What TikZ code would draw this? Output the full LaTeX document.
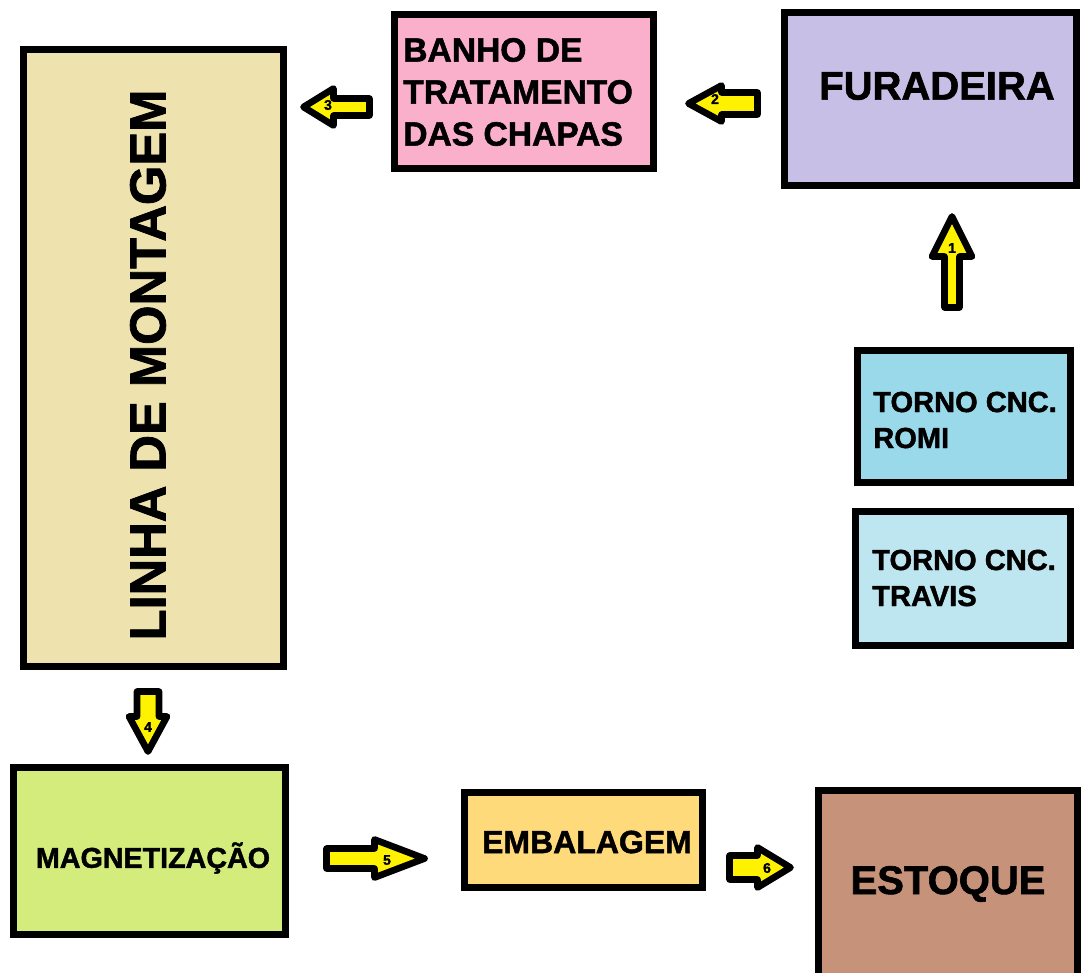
\documentclass[tikz,border=0pt]{standalone}
\usepackage{fontspec}
\setmainfont{Liberation Sans}[BoldFeatures={FakeBold=1.5}]
\definecolor{ctan}{HTML}{EEE2AF}
\definecolor{cpink}{HTML}{FAB0CB}
\definecolor{clav}{HTML}{C8BFE6}
\definecolor{cromi}{HTML}{99D9EA}
\definecolor{ctravis}{HTML}{BEE6F0}
\definecolor{cmag}{HTML}{D4EC7B}
\definecolor{cemb}{HTML}{FFDA7A}
\definecolor{cest}{HTML}{C6937A}
\definecolor{cyel}{HTML}{FFF200}
\tikzset{
  box/.style={draw=black, line width=5.25pt, inner sep=0pt},
  lbl/.style={font=\bfseries, inner sep=0pt, text=black},
  arrowstyle/.style={draw=black, fill=cyel, line width=5pt, line join=round},
  num/.style={font=\bfseries\fontsize{10.5}{10.5}\selectfont, inner sep=0pt}
}
\newcommand{\blockarr}[7]{%
  \draw[arrowstyle, shift={(#1,#2)}, rotate=#3]
    ({-#4/2},{-#6/2}) -- ({#4/2-#7},{-#6/2}) -- ({#4/2-#7},{-#5/2}) -- ({#4/2},0)
    -- ({#4/2-#7},{#5/2}) -- ({#4/2-#7},{#6/2}) -- ({-#4/2},{#6/2}) -- cycle;}
\begin{document}
\begin{tikzpicture}[x=0.75pt, y=-0.75pt]
\useasboundingbox (0,0) rectangle (1081,972);
\clip (0,0) rectangle (1081,972);
% boxes
\node[box, fill=ctan, minimum width=195pt, minimum height=462.75pt] (linha) at (153.5,358) {};
\node[box, fill=cpink, minimum width=194.25pt, minimum height=115.5pt] (banho) at (524,91.5) {};
\node[box, fill=clav, minimum width=219pt, minimum height=129.75pt] (fura) at (930.5,99) {};
\node[box, fill=cromi, minimum width=159.75pt, minimum height=99pt] (romi) at (964,416.5) {};
\node[box, fill=ctravis, minimum width=161.25pt, minimum height=100.5pt] (travis) at (963,578.5) {};
\node[box, fill=cmag, minimum width=204pt, minimum height=125.25pt] (magnet) at (149.5,851) {};
\node[box, fill=cemb, minimum width=178.5pt, minimum height=71.25pt] (embal) at (583.5,840) {};
\node[box, fill=cest, minimum width=194.25pt, minimum height=147pt] (estoque) at (948,888.5) {};
% texts
\node[lbl, rotate=90, font=\bfseries\fontsize{38}{38}\selectfont] (linhaT) at (148,365) {LINHA DE MONTAGEM};
\node[lbl, anchor=west, align=left, font=\bfseries\fontsize{25.2}{31.5}\selectfont] (banhoT) at (403,92) {BANHO DE\\TRATAMENTO\\DAS CHAPAS};
\node[lbl, font=\bfseries\fontsize{30}{30}\selectfont] (furaT) at (937,86) {FURADEIRA};
\node[lbl, anchor=west, align=left, font=\bfseries\fontsize{21.8}{27}\selectfont] (romiT) at (873,420) {TORNO CNC.\\ROMI};
\node[lbl, anchor=west, align=left, font=\bfseries\fontsize{21.8}{27}\selectfont] (travisT) at (872,578) {TORNO CNC.\\TRAVIS};
\node[lbl, font=\bfseries\fontsize{21.5}{21.5}\selectfont] (magnetT) at (153,858) {MAGNETIZAÇÃO};
\node[lbl, font=\bfseries\fontsize{24}{24}\selectfont] (embalT) at (587,842) {EMBALAGEM};
\node[lbl, font=\bfseries\fontsize{30}{30}\selectfont] (estoqueT) at (948,884) {ESTOQUE};
% block arrows
\blockarr{952}{262}{90}{91}{40}{15}{40}
\blockarr{723}{103.5}{180}{69}{36}{22}{33}
\blockarr{336.5}{107}{180}{66}{37}{17}{30}
\blockarr{148}{721.5}{270}{60}{38}{22}{35}
\blockarr{375.5}{858.5}{0}{98}{38}{20}{50}
\blockarr{760}{867.5}{0}{61}{40}{24}{33}
\node[num] (n1) at (952,248) {1};
\node[num] (n2) at (715,99) {2};
\node[num] (n3) at (328,105) {3};
\node[num] (n4) at (148,727) {4};
\node[num] (n5) at (387,860) {5};
\node[num] (n6) at (767,868) {6};
\end{tikzpicture}
\end{document}
